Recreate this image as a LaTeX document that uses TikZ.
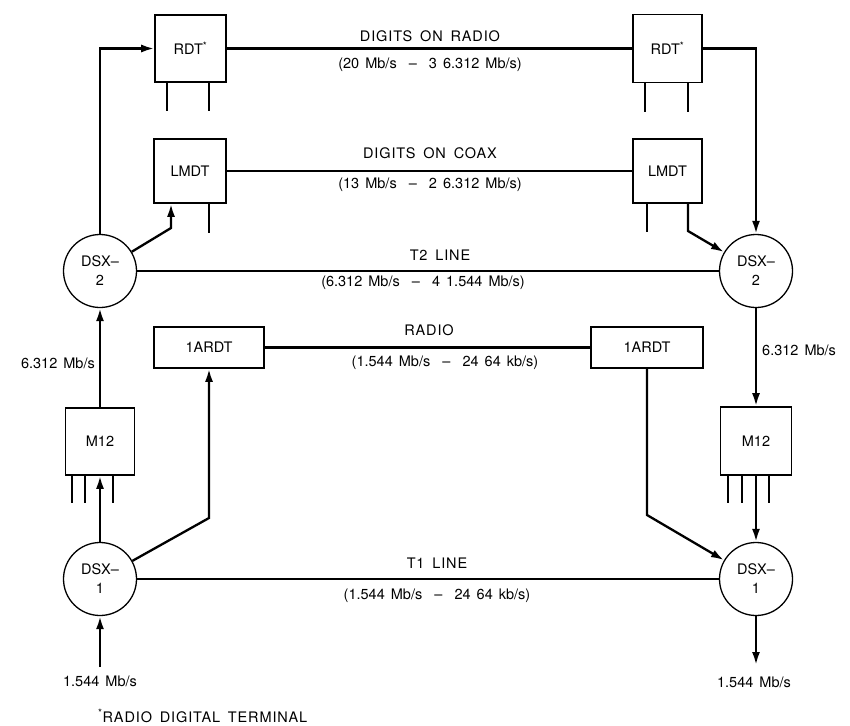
\documentclass[tikz,border=0pt]{standalone}
\usepackage{fontspec}
\setmainfont[WordSpace=1.5]{TeX Gyre Heros}
\newfontfamily\spacedfont[LetterSpace=6,WordSpace=1.6]{TeX Gyre Heros}
\usetikzlibrary{arrows.meta,calc}
\begin{document}
\begin{tikzpicture}[x=1pt,y=-1pt,
  every node/.style={font=\fontsize{14.5}{18}\selectfont},
  blk/.style={draw,line width=1.6pt,inner sep=0pt},
  circ/.style={circle,draw,line width=1.3pt,minimum size=73pt,inner sep=0pt,align=center,
    font=\fontsize{14.5}{19}\selectfont},
  conn/.style={line width=2.3pt},
  arr/.style={conn,-{Latex[length=13pt,width=8pt]}},
  lbl/.style={inner sep=0pt},
  title/.style={inner sep=0pt,font=\spacedfont\fontsize{14.5}{18}\selectfont}]
\useasboundingbox (0,0) rectangle (850,725);

% boxes
\node[blk,minimum width=71pt,minimum height=67pt] (rdtL) at (190.5,48.5) {RDT\textsuperscript{*}};
\node[blk,minimum width=69pt,minimum height=68pt] (rdtR) at (667.5,48.5) {RDT\textsuperscript{*}};
\node[blk,minimum width=72pt,minimum height=64pt] (lmdtL) at (190,171) {LMDT};
\node[blk,minimum width=69pt,minimum height=64pt] (lmdtR) at (667.5,171) {LMDT};
\node[blk,minimum width=110pt,minimum height=41pt] (ardtL) at (209,347.5) {1ARDT};
\node[blk,minimum width=112pt,minimum height=41pt] (ardtR) at (647,347.5) {1ARDT};
\node[blk,minimum width=69pt,minimum height=67pt] (m12L) at (100,441.5) {M12};
\node[blk,minimum width=71pt,minimum height=68pt] (m12R) at (756,441) {M12};

% circles
\node[circ] (dsx2L) at (100,271) {DSX–\\2};
\node[circ] (dsx2R) at (756,271) {DSX–\\2};
\node[circ] (dsx1L) at (100,579) {DSX–\\1};
\node[circ] (dsx1R) at (756,579) {DSX–\\1};

% helper coordinates
\coordinate (c1) at (171,228);
\coordinate (c2) at (688,231);
\coordinate (c3) at (209,518);
\coordinate (c4) at (647,515);
\coordinate (inL) at (100,667);
\coordinate (outR) at (756,665);

% connectors
\draw[arr] (dsx2L.north) |- (rdtL.west);
\draw[conn] (rdtL.east) -- (rdtR.west);
\draw[arr] (rdtR.east) -| (dsx2R.north);
\draw[conn] (lmdtL.east) -- (lmdtR.west);
\draw[arr] (dsx2L) -- (c1) -- (c1 |- lmdtL.south);
\draw[arr] (c2 |- lmdtR.south) -- (c2) -- (dsx2R);
\draw[conn] (dsx2L.east) -- (dsx2R.west);
\draw[arr] (m12L.north) -- (dsx2L.south);
\draw[arr] (dsx2R.south) -- (m12R.north);
\draw[conn] (ardtL.east) -- (ardtR.west);
\draw[arr] (dsx1L) -- (c3) -- (ardtL.south);
\draw[arr] (ardtR.south) -- (c4) -- (dsx1R);
\draw[arr] (dsx1L.north) -- (m12L.south);
\draw[arr] (m12R.south) -- (dsx1R.north);
\draw[conn] (dsx1L.east) -- (dsx1R.west);
\draw[arr] (inL) -- (dsx1L.south);
\draw[arr] (dsx1R.south) -- (outR);

% legs
\draw[conn] ($(rdtL.south)+(-23.5,0)$) -- ++(0,28);
\draw[conn] ($(rdtL.south)+(18.5,0)$) -- ++(0,28);
\draw[conn] ($(rdtR.south)+(-22.5,0)$) -- ++(0,29);
\draw[conn] ($(rdtR.south)+(20.5,0)$) -- ++(0,29);
\draw[conn] ($(lmdtL.south)+(19,0)$) -- ++(0,29);
\draw[conn] ($(lmdtR.south)+(-20.5,0)$) -- ++(0,28);
\draw[conn] ($(m12L.south)+(-28,0)$) -- ++(0,27);
\draw[conn] ($(m12L.south)+(-15,0)$) -- ++(0,27);
\draw[conn] ($(m12L.south)+(13,0)$) -- ++(0,27);
\draw[conn] ($(m12R.south)+(-28,0)$) -- ++(0,27);
\draw[conn] ($(m12R.south)+(-14,0)$) -- ++(0,27);
\draw[conn] ($(m12R.south)+(13,0)$) -- ++(0,27);

% line labels
\node[title] (t1) at (430,36) {DIGITS ON RADIO};
\node[lbl] (t1b) at (430,65) {(20 Mb/s \ – \ 3 6.312 Mb/s)};
\node[title] (t2) at (430,153) {DIGITS ON COAX};
\node[lbl] (t2b) at (430,185) {(13 Mb/s \ – \ 2 6.312 Mb/s)};
\node[title] (t3) at (440,255) {T2 LINE};
\node[lbl] (t3b) at (423,283) {(6.312 Mb/s \ – \ 4 1.544 Mb/s)};
\node[title] (t4) at (429,330) {RADIO};
\node[lbl] (t4b) at (445,363) {(1.544 Mb/s \ – \ 24 64 kb/s)};
\node[title] (t5) at (437,563) {T1 LINE};
\node[lbl] (t5b) at (437,596) {(1.544 Mb/s \ – \ 24 64 kb/s)};

% rate labels
\node[lbl,anchor=east] (r1) at (95,363) {6.312 Mb/s};
\node[lbl,anchor=west] (r2) at (762,350) {6.312 Mb/s};
\node[lbl] (r3) at (100,681) {1.544 Mb/s};
\node[lbl] (r4) at (754,682) {1.544 Mb/s};

% footnote
\node[title,anchor=west] (fn) at (98,716) {\textsuperscript{*}RADIO DIGITAL TERMINAL};
\end{tikzpicture}
\end{document}
